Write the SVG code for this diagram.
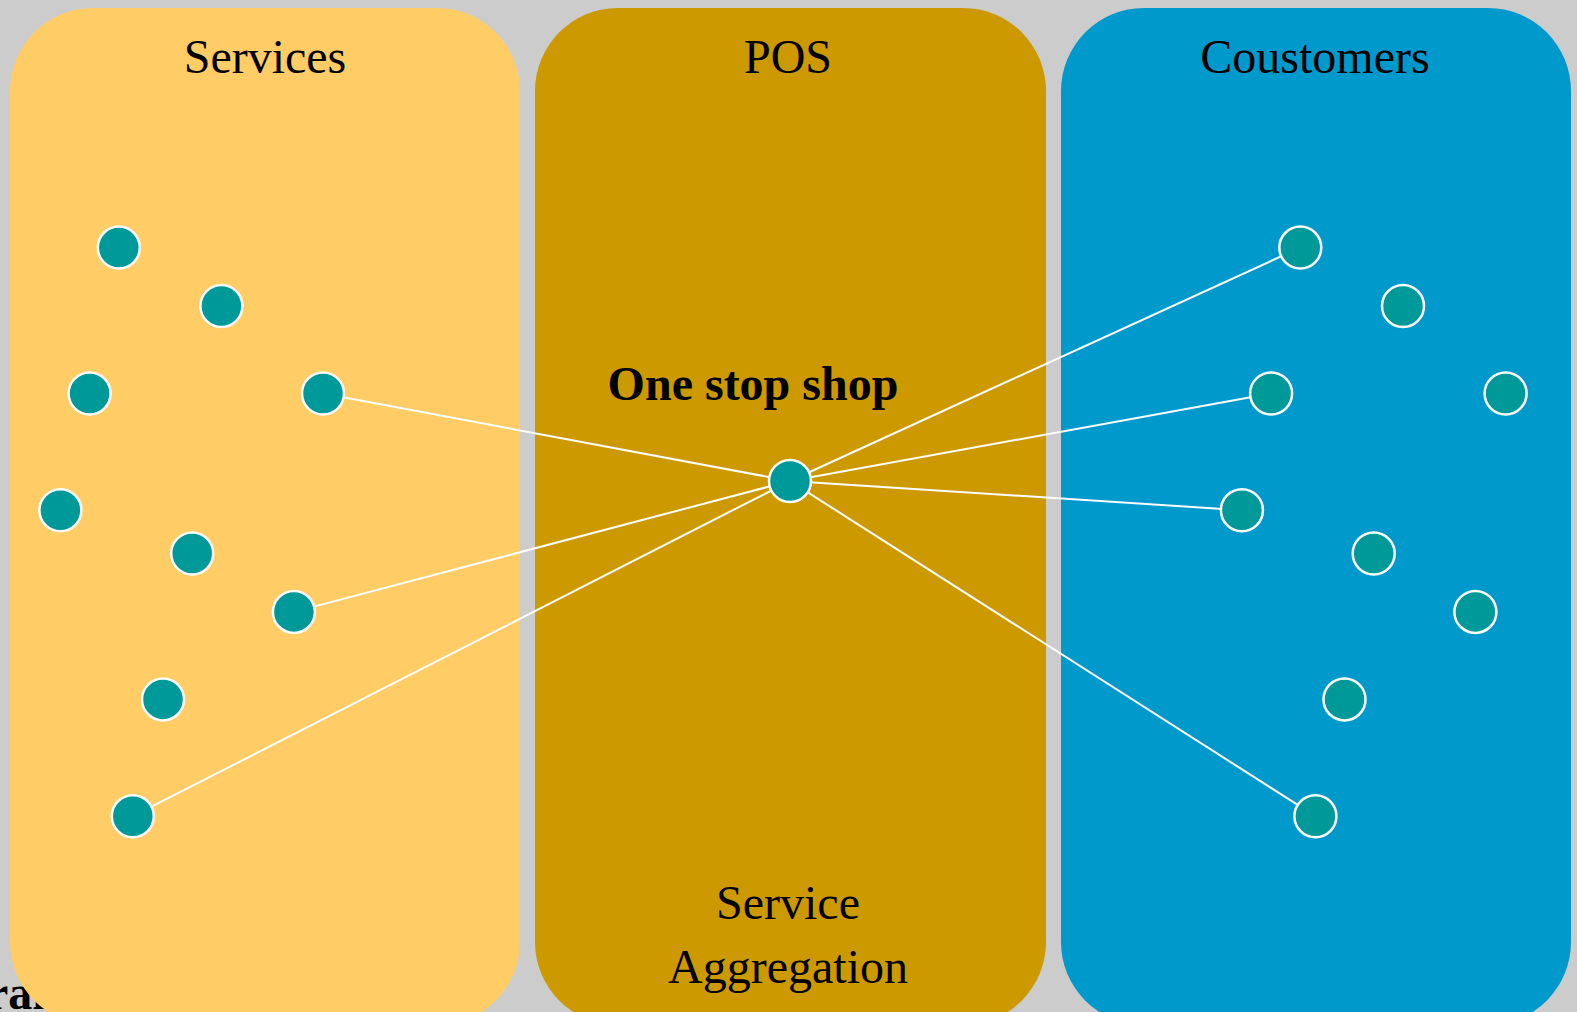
<svg xmlns="http://www.w3.org/2000/svg" width="1577" height="1012" viewBox="0 0 1577 1012">
<style>
.t{font-family:"Liberation Serif","Times New Roman",serif;font-size:48px;fill:#000;text-anchor:middle}
.b{font-weight:bold}
.n{fill:#009999;stroke:#fff;stroke-width:2.5}
.c{stroke:#fff;stroke-width:2;fill:none}
</style>
<rect width="1577" height="1012" fill="#cccccc"/>
<text x="-13" y="1009" class="t b" style="text-anchor:start">ran</text>
<g id="services">
<rect x="10" y="8" width="510" height="1017" rx="83" fill="#ffcc66"/>
<text x="265" y="72.5" class="t">Services</text>
</g>
<g id="pos">
<rect x="535" y="8" width="511" height="1017" rx="83" fill="#cc9900"/>
<text x="788" y="72.5" class="t">POS</text>
<text x="753" y="399.5" class="t b">One stop shop</text>
<text x="788" y="919" class="t">Service</text>
<text x="788" y="983" class="t">Aggregation</text>
</g>
<g id="customers">
<rect x="1061" y="8" width="510" height="1017" rx="83" fill="#0099cc"/>
<text x="1315" y="72.5" class="t">Coustomers</text>
</g>
<g id="connectors">
<line class="c" x1="790" y1="481" x2="323" y2="393.5"/>
<line class="c" x1="790" y1="481" x2="293.9" y2="611.9"/>
<line class="c" x1="790" y1="481" x2="132.8" y2="816.2"/>
<line class="c" x1="790" y1="481" x2="1300.3" y2="247.6"/>
<line class="c" x1="790" y1="481" x2="1271.1" y2="393.5"/>
<line class="c" x1="790" y1="481" x2="1241.9" y2="510.2"/>
<line class="c" x1="790" y1="481" x2="1315.4" y2="816.2"/>
</g>
<g id="s1"><circle class="n" cx="118.8" cy="247.6" r="21"/></g>
<g id="s2"><circle class="n" cx="221.4" cy="306" r="21"/></g>
<g id="s3"><circle class="n" cx="89.6" cy="393.5" r="21"/></g>
<g id="s4"><circle class="n" cx="323" cy="393.5" r="21"/></g>
<g id="s5"><circle class="n" cx="60.4" cy="510.2" r="21"/></g>
<g id="s6"><circle class="n" cx="192.2" cy="553.5" r="21"/></g>
<g id="s7"><circle class="n" cx="293.9" cy="611.9" r="21"/></g>
<g id="s8"><circle class="n" cx="163" cy="699.4" r="21"/></g>
<g id="s9"><circle class="n" cx="132.8" cy="816.2" r="21"/></g>
<g id="hub"><circle class="n" cx="790" cy="481" r="21"/></g>
<g id="c1"><circle class="n" cx="1300.3" cy="247.6" r="21"/></g>
<g id="c2"><circle class="n" cx="1403" cy="306" r="21"/></g>
<g id="c3"><circle class="n" cx="1271.1" cy="393.5" r="21"/></g>
<g id="c4"><circle class="n" cx="1505.6" cy="393.5" r="21"/></g>
<g id="c5"><circle class="n" cx="1241.9" cy="510.2" r="21"/></g>
<g id="c6"><circle class="n" cx="1373.7" cy="553.5" r="21"/></g>
<g id="c7"><circle class="n" cx="1475.4" cy="611.9" r="21"/></g>
<g id="c8"><circle class="n" cx="1344.5" cy="699.4" r="21"/></g>
<g id="c9"><circle class="n" cx="1315.4" cy="816.2" r="21"/></g>
</svg>
